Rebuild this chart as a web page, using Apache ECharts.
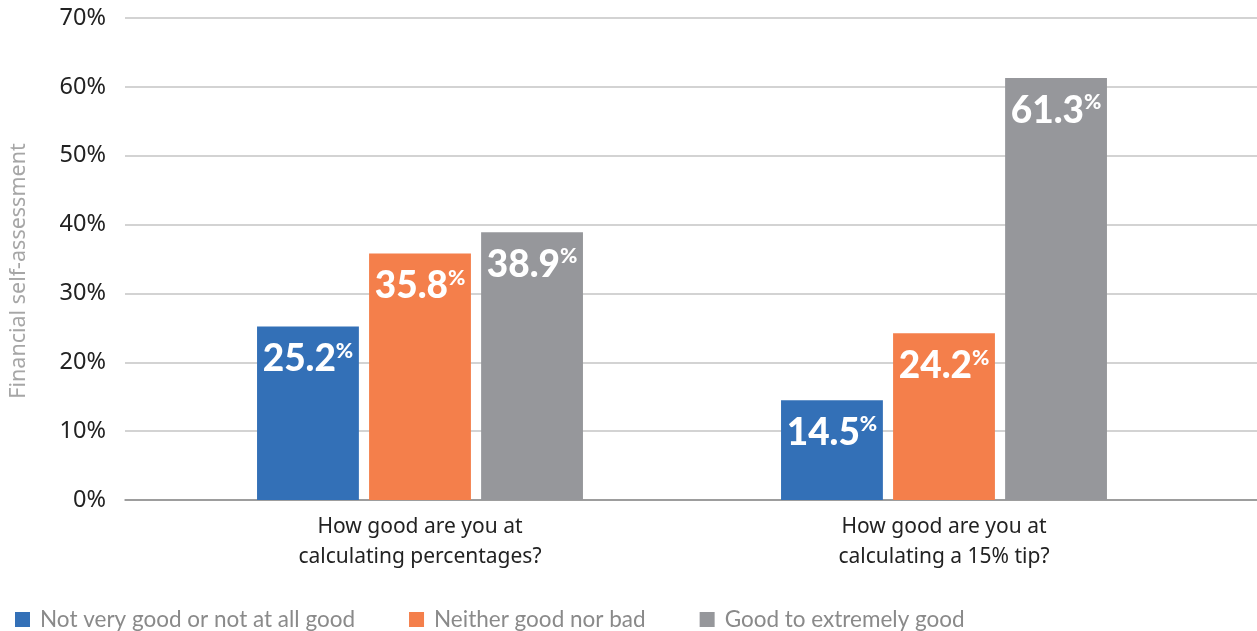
<!DOCTYPE html>
<html><head><meta charset="utf-8">
<script src="https://cdn.jsdelivr.net/npm/echarts@6/dist/echarts.min.js"></script>
<style>html,body{margin:0;padding:0;background:#fff}#c{width:1257px;height:631px}</style>
</head><body><div id="c"></div>
<script>
const categories = ['How good are you at\ncalculating percentages?', 'How good are you at\ncalculating a 15% tip?'];
const seriesNames = ['Not very good or not at all good', 'Neither good nor bad', 'Good to extremely good'];
const notGood = [25.2, 14.5];
const neither = [35.8, 24.2];
const good = [38.9, 61.3];
const yTicks = [0, 10, 20, 30, 40, 50, 60, 70];
const colors = ['#3370b7', '#f47f4b', '#96979b'];

const chart = echarts.init(document.getElementById('c'));
const labelCfg = {
  show: true, position: 'insideTop', distance: 14,
  formatter: p => '{n|' + p.value.toFixed(1) + '}{p|%}',
  rich: {
    n: { fontFamily: 'Lato', fontWeight: 900, fontSize: 37, color: '#fff', lineHeight: 38 },
    p: { fontFamily: 'Lato', fontWeight: 900, fontSize: 21, color: '#fff', verticalAlign: 'top', lineHeight: 38, padding: [0,0,11,0] }
  }
};
const data = [notGood, neither, good];
chart.setOption({
  animation: false,
  legend: {
    left: 10, top: 603, itemWidth: 15, itemHeight: 15, itemGap: 54,
    icon: 'rect',
    textStyle: { fontFamily: 'Lato', fontSize: 22.5, color: '#8a8a8a', padding: [0,0,0,5] },
    data: seriesNames
  },
  grid: [
    { left: 122, right: 0, top: 18, bottom: 131 },
    { left: 158, right: 51, top: 18, bottom: 131 }
  ],
  xAxis: [
    { type: 'category', gridIndex: 0, data: [''], axisLine: { show: true, lineStyle: { color: '#8c8c8c', width: 1.5 } }, axisTick: { show: false }, axisLabel: { show: false } },
    { type: 'category', gridIndex: 1, data: categories, axisLine: { show: false }, axisTick: { show: false },
      axisLabel: { fontFamily: 'Noto Sans', fontSize: 21, color: '#222', lineHeight: 30, margin: 12 } }
  ],
  yAxis: [
    { type: 'value', gridIndex: 0, min: 0, max: 70, interval: 10,
      name: 'Financial self-assessment', nameLocation: 'middle', nameGap: 95, nameRotate: 90,
      nameTextStyle: { fontFamily: 'Noto Sans', fontSize: 21.5, color: '#a6a6a6', padding: [0, 24, 0, 0] },
      axisLabel: { formatter: v => v + '%', fontFamily: 'Noto Sans', fontSize: 23.5, color: '#222', margin: 19 },
      axisLine: { show: false }, axisTick: { show: false },
      splitLine: { lineStyle: { color: '#c4c4c4', width: 1.5 } } },
    { type: 'value', gridIndex: 1, min: 0, max: 70, interval: 10, show: false, splitLine: { show: false } }
  ],
  series: seriesNames.map((n, i) => ({
    name: n, type: 'bar', xAxisIndex: 1, yAxisIndex: 1, data: data[i],
    itemStyle: { color: colors[i] }, barGap: '10%', barCategoryGap: '37.8%',
    label: labelCfg
  }))
});
</script></body></html>
